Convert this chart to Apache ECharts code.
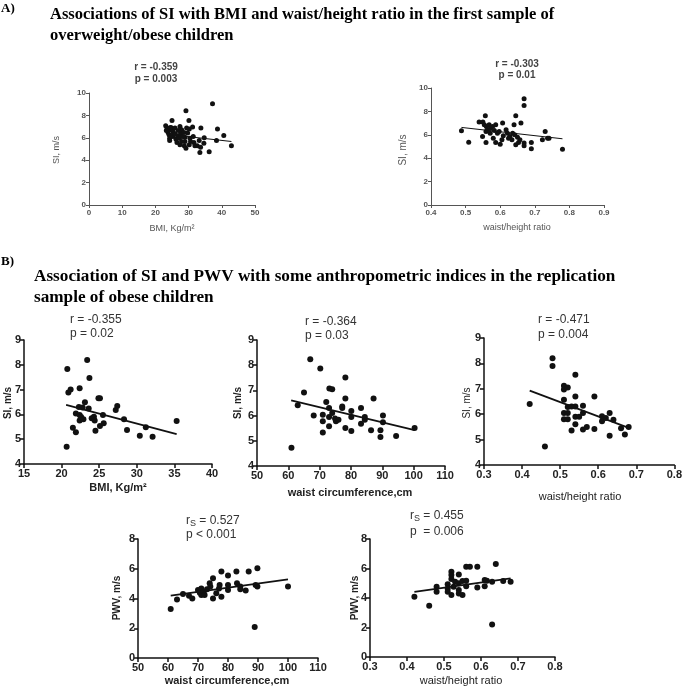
<!DOCTYPE html>
<html><head><meta charset="utf-8">
<script src="https://cdn.jsdelivr.net/npm/echarts@6/dist/echarts.min.js"></script>
<style>html,body{margin:0;padding:0;background:#fff}#c{width:685px;height:689px}</style>
</head><body><div id="c"></div>
<script>
// ---------- Panel A1: SI vs BMI ----------
const p1X = [23.1,25.0,24.3,23.8,24.1,24.3,24.3,24.8,25.1,25.3,25.5,25.3,25.9,26.2,26.5,26.7,27.4,27.9,27.6,28.6,28.9,28.9,28.7,29.2,29.2,29.4,29.7,30.1,30.2,30.4,30.6,30.2,31.2,31.4,31.6,31.9,32.6,33.2,33.4,33.6,33.7,34.7,34.6,36.2,37.2,38.4,38.7,40.6,42.9,23.3,23.5,24.5,24.9,25.9,26.9,27.2,28.2,27.4,27.9];
const p1Y = [7.07,7.55,6.72,6.48,6.27,5.97,5.76,6.9,6.78,6.57,6.36,6.12,6.87,5.88,5.58,6.18,7.01,6.72,6.36,6.48,6.06,5.67,5.28,5.07,8.42,6.87,6.42,7.55,6.78,5.97,5.67,5.37,6.96,6.12,5.58,5.28,5.28,5.76,4.69,5.16,6.87,6.0,5.52,4.75,9.04,5.76,6.78,6.2,5.28,6.66,6.87,6.93,6.18,6.36,6.66,5.97,6.12,5.37,5.67];
const p1LineX = [24.8,42.9];
const p1LineY = [6.27,5.67];
// ---------- Panel A2: SI vs waist/height ----------
const p2X = [0.488,0.509,0.549,0.557,0.559,0.539,0.55,0.554,0.56,0.563,0.559,0.568,0.572,0.571,0.578,0.583,0.58,0.587,0.592,0.587,0.597,0.6,0.607,0.609,0.605,0.617,0.621,0.624,0.628,0.634,0.636,0.64,0.642,0.645,0.645,0.65,0.653,0.66,0.657,0.669,0.669,0.669,0.669,0.69,0.69,0.722,0.73,0.737,0.741,0.78];
const p2Y = [6.34,5.37,5.86,7.63,5.34,7.09,7.09,6.86,6.71,6.43,6.29,6.86,6.57,6.14,6.71,6.37,5.71,6.86,6.14,5.34,6.29,5.2,7.0,5.91,5.57,6.43,6.14,5.71,5.86,5.57,6.14,6.86,6.0,7.63,5.14,5.8,5.34,7.0,5.57,9.09,8.51,5.29,5.06,5.34,4.8,5.57,6.29,5.71,5.71,4.77];
const p2LineX = [0.488,0.78];
const p2LineY = [6.63,5.66];
// ---------- Panel B1: SI vs BMI ----------
const p3X = [20.67,20.76,20.9,21.2,21.5,21.9,21.9,22.3,22.4,22.4,22.6,22.8,23.1,22.9,23.4,23.7,23.6,22.4,24.0,24.3,24.4,24.5,24.9,25.1,25.1,25.5,25.6,27.2,27.4,28.3,28.7,30.4,31.2,32.1,35.3];
const p3Y = [4.7,7.83,6.88,7.0,5.46,5.28,6.04,6.3,5.98,5.75,5.9,6.28,6.49,5.8,8.19,7.47,6.24,7.05,5.84,5.91,5.75,5.34,6.65,6.65,5.53,5.98,5.64,6.18,6.34,5.8,5.37,5.14,5.48,5.1,5.73];
const p3LineX = [20.6,35.3];
const p3LineY = [6.38,5.2];
// ---------- Panel B2: SI vs waist circumference ----------
const p4X = [61,63,65,67,68.1,70.2,71,71,71,72.1,73,73,73,73.1,74,74,74.9,75.2,76,77.2,77.2,78.2,78.2,78.2,80.1,80.1,80.1,83.2,83.2,84.4,84.4,87.2,86.4,89.4,89.4,90.2,90.2,94.4,100.3];
const p4Y = [4.72,6.41,6.92,8.24,6.0,7.87,6.03,5.78,5.33,6.54,6.3,5.94,5.58,7.08,7.05,6.1,5.88,5.78,5.84,6.3,6.36,7.51,6.68,5.51,6.18,5.94,5.39,6.3,5.68,5.84,5.94,6.68,5.42,5.42,5.15,6.0,5.74,5.19,5.51];
const p4LineX = [60.9,100.3];
const p4LineY = [6.6,5.42];
// ---------- Panel B3: SI vs waist/height ----------
const p5X = [0.42,0.46,0.48,0.48,0.51,0.51,0.52,0.51,0.51,0.51,0.52,0.52,0.52,0.53,0.53,0.54,0.54,0.54,0.54,0.54,0.55,0.56,0.56,0.56,0.57,0.59,0.59,0.61,0.61,0.62,0.63,0.63,0.64,0.66,0.67,0.68];
const p5Y = [6.4,4.73,8.2,7.9,7.12,6.97,7.05,6.57,6.05,5.8,6.05,5.8,6.28,6.3,5.36,7.55,6.7,6.3,5.9,5.6,5.9,6.33,6.05,5.4,5.5,6.7,5.42,5.92,5.72,5.85,6.05,5.15,5.78,5.45,5.2,5.5];
const p5LineX = [0.42,0.68];
const p5LineY = [6.93,5.46];
// ---------- Panel B4: PWV vs waist circumference ----------
const p6X = [60.9,63,65,67,68.1,70,70.6,71.1,71.1,71.9,72.2,73,73.9,74.1,75,75,76.1,77,77.2,77.8,77.8,80,80,80,82.8,83,84.1,84.1,85.9,86.9,89.2,88.9,89.8,89.8,100];
const p6Y = [3.29,3.94,4.3,4.19,4.0,4.57,4.39,4.68,4.23,4.46,4.23,4.62,5.02,4.8,5.36,4.0,4.35,4.68,4.91,5.81,4.12,5.54,4.91,4.57,5.81,5.02,4.8,4.62,4.53,5.81,4.91,2.09,6.04,4.8,4.8];
const p6LineX = [60.9,100];
const p6LineY = [4.19,5.29];
// ---------- Panel B5: PWV vs waist/height ----------
const p7X = [0.42,0.46,0.48,0.48,0.51,0.51,0.51,0.52,0.52,0.52,0.52,0.526,0.53,0.54,0.54,0.54,0.54,0.55,0.55,0.56,0.56,0.57,0.56,0.59,0.59,0.61,0.61,0.616,0.63,0.63,0.64,0.66,0.68];
const p7Y = [4.08,3.47,4.76,4.42,4.94,4.65,4.42,5.78,5.56,5.28,4.2,4.76,5.1,4.54,5.6,4.31,5.0,4.2,5.15,4.8,6.12,6.12,5.17,6.12,4.72,5.22,4.8,5.17,5.1,2.2,6.3,5.15,5.1];
const p7LineX = [0.42,0.68];
const p7LineY = [4.42,5.33];

// ---------- text ----------
const titleA = ['Associations of SI with BMI and waist/height ratio in the first sample of','overweight/obese children'];
const titleB = ['Association of SI and PWV with some anthropometric indices in the replication','sample of obese children'];

const SANS = '"Liberation Sans", Arial, sans-serif';
const SERIF = '"Liberation Serif", "Times New Roman", serif';

const panels = [
  {g:{left:89,top:93,width:166,height:112}, xr:[0,50,10], yr:[0,10,2], xs:p1X, ys:p1Y, lx:p1LineX, ly:p1LineY, small:true},
  {g:{left:431,top:88,width:173,height:117}, xr:[0.4,0.9,0.1], yr:[0,10,2], xs:p2X, ys:p2Y, lx:p2LineX, ly:p2LineY, small:true},
  {g:{left:24,top:340,width:188,height:124}, xr:[15,40,5], yr:[4,9,1], xs:p3X, ys:p3Y, lx:p3LineX, ly:p3LineY},
  {g:{left:257,top:340,width:188,height:126}, xr:[50,110,10], yr:[4,9,1], xs:p4X, ys:p4Y, lx:p4LineX, ly:p4LineY},
  {g:{left:484,top:338,width:193,height:127}, xr:[0.3,0.8,0.1], yr:[4,9,1], xs:p5X, ys:p5Y, lx:p5LineX, ly:p5LineY},
  {g:{left:138,top:539,width:180,height:119}, xr:[50,110,10], yr:[0,8,2], xs:p6X, ys:p6Y, lx:p6LineX, ly:p6LineY},
  {g:{left:370,top:539,width:185,height:118}, xr:[0.3,0.8,0.1], yr:[0,8,2], xs:p7X, ys:p7Y, lx:p7LineX, ly:p7LineY}
];

const grid = [], xAxis = [], yAxis = [], series = [];
panels.forEach((p, i) => {
  const axCol = p.small ? '#555' : '#111';
  const lab = {fontFamily: SANS, fontWeight: 'bold', fontSize: p.small ? 8 : 11, color: p.small ? '#555' : '#222', margin: 4};
  grid.push(Object.assign({containLabel:false}, p.g));
  const dec = p.xr[2] < 1 ? 1 : 0;
  xAxis.push({type:'value', gridIndex:i, min:p.xr[0], max:p.xr[1], interval:p.xr[2],
    axisLine:{show:true, onZero:false, lineStyle:{color:axCol, width:p.small?1:1.5}},
    axisTick:{show:true, length:p.small?3:4, lineStyle:{color:axCol, width:p.small?1:1.5}},
    axisLabel:Object.assign({formatter: v => v.toFixed(dec), showMinLabel:true, showMaxLabel:true}, lab), splitLine:{show:false}});
  yAxis.push({type:'value', gridIndex:i, min:p.yr[0], max:p.yr[1], interval:p.yr[2],
    axisLine:{show:true, onZero:false, lineStyle:{color:axCol, width:p.small?1:1.5}},
    axisTick:{show:true, length:p.small?3:4, lineStyle:{color:axCol, width:p.small?1:1.5}},
    axisLabel:Object.assign({showMinLabel:true, showMaxLabel:true}, lab, {margin:3}), splitLine:{show:false}});
  series.push({type:'scatter', xAxisIndex:i, yAxisIndex:i, symbolSize:p.small?5:6,
    itemStyle:{color:'#111', opacity:1}, data:p.xs.map((x, k) => [x, p.ys[k]]), silent:true});
  series.push({type:'line', xAxisIndex:i, yAxisIndex:i, symbol:'none', silent:true,
    lineStyle:{color:'#111', width:p.small?1:1.8}, data:p.lx.map((x, k) => [x, p.ly[k]])});
});

function txt(x, y, text, font, color, align, rot, rich) {
  const el = {type:'text', x:x, y:y, silent:true,
    style:{text:text, font:font, fill:color||'#000', textAlign:align||'left', textVerticalAlign:'middle'}};
  if (rot) el.rotation = rot;
  if (rich) el.style.rich = rich;
  return el;
}
const tFontA = 'bold 16.5px ' + SERIF;
const tFontB = 'bold 17.2px ' + SERIF;
const graphic = [
  txt(1, 9, 'A)', 'bold 13px ' + SERIF),
  txt(50, 15, titleA[0], tFontA),
  txt(50, 36, titleA[1], tFontA),
  txt(1, 262, 'B)', 'bold 13px ' + SERIF),
  txt(34, 277, titleB[0], tFontB),
  txt(34, 298, titleB[1], tFontB),
  // A annotations
  txt(156, 67, 'r = -0.359', 'bold 10px ' + SANS, '#444', 'center'),
  txt(156, 79, 'p = 0.003', 'bold 10px ' + SANS, '#444', 'center'),
  txt(517, 64, 'r = -0.303', 'bold 10px ' + SANS, '#444', 'center'),
  txt(517, 75, 'p = 0.01', 'bold 10px ' + SANS, '#444', 'center'),
  txt(57, 150, 'SI, m/s', '9px ' + SANS, '#555', 'center', Math.PI/2),
  txt(403, 150, 'SI, m/s', '10px ' + SANS, '#555', 'center', Math.PI/2),
  txt(172, 229, 'BMI, Kg/m²', '9px ' + SANS, '#555', 'center'),
  txt(517, 228, 'waist/height ratio', '9px ' + SANS, '#555', 'center'),
  // B annotations
  txt(70, 320, 'r = -0.355', '12px ' + SANS, '#333'),
  txt(70, 334, 'p = 0.02', '12px ' + SANS, '#333'),
  txt(305, 322, 'r = -0.364', '12px ' + SANS, '#333'),
  txt(305, 336, 'p = 0.03', '12px ' + SANS, '#333'),
  txt(538, 320, 'r = -0.471', '12px ' + SANS, '#333'),
  txt(538, 335, 'p = 0.004', '12px ' + SANS, '#333'),
  txt(186, 521, '{a|r}{s|S}{a| = 0.527}', '12px ' + SANS, '#333', 'left', 0,
      {a:{font:'12px ' + SANS, fill:'#333'}, s:{font:'9px ' + SANS, fill:'#333', padding:[6,0,0,0]}}),
  txt(186, 535, 'p < 0.001', '12px ' + SANS, '#333'),
  txt(410, 516, '{a|r}{s|S}{a| = 0.455}', '12px ' + SANS, '#333', 'left', 0,
      {a:{font:'12px ' + SANS, fill:'#333'}, s:{font:'9px ' + SANS, fill:'#333', padding:[6,0,0,0]}}),
  txt(410, 532, 'p  = 0.006', '12px ' + SANS, '#333'),
  txt(8, 403, 'SI, m/s', 'bold 10px ' + SANS, '#222', 'center', Math.PI/2),
  txt(238, 403, 'SI, m/s', 'bold 10px ' + SANS, '#222', 'center', Math.PI/2),
  txt(467, 403, 'SI, m/s', '10px ' + SANS, '#222', 'center', Math.PI/2),
  txt(117, 598, 'PWV, m/s', 'bold 10px ' + SANS, '#222', 'center', Math.PI/2),
  txt(355, 598, 'PWV, m/s', 'bold 10px ' + SANS, '#222', 'center', Math.PI/2),
  txt(118, 488, 'BMI, Kg/m²', 'bold 11px ' + SANS, '#222', 'center'),
  txt(350, 493, 'waist circumference,cm', 'bold 11px ' + SANS, '#222', 'center'),
  txt(580, 497, 'waist/height ratio', '11px ' + SANS, '#222', 'center'),
  txt(227, 681, 'waist circumference,cm', 'bold 11px ' + SANS, '#222', 'center'),
  txt(461, 681, 'waist/height ratio', '11px ' + SANS, '#222', 'center')
];

const chart = echarts.init(document.getElementById('c'), null, {renderer:'canvas'});
chart.setOption({animation:false, backgroundColor:'#fff', grid, xAxis, yAxis, series, graphic});
</script></body></html>
